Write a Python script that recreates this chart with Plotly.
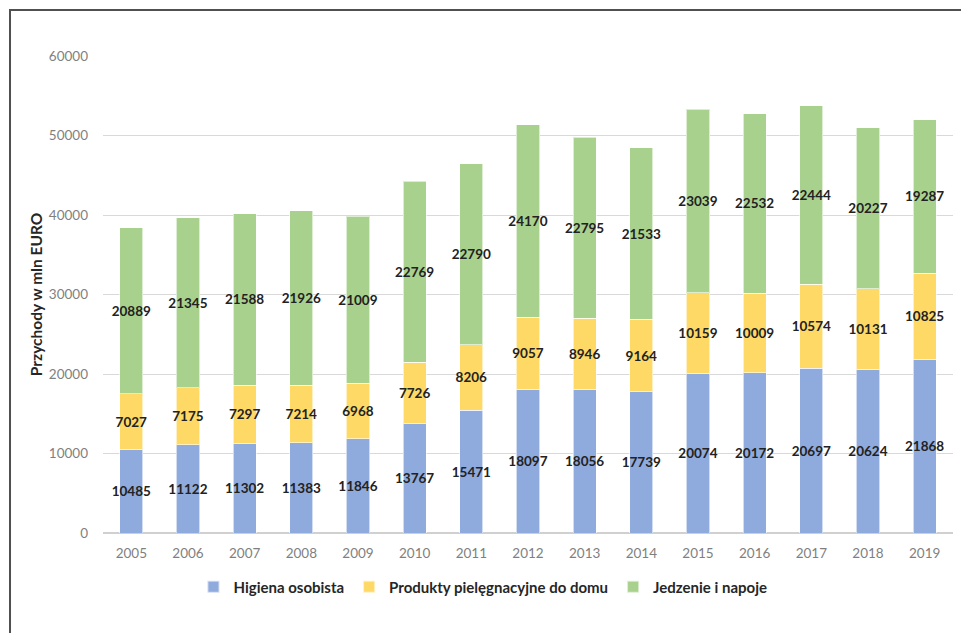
import plotly.graph_objects as go

# Revenue by category (mln EUR), 2005-2019
years = ["2005", "2006", "2007", "2008", "2009", "2010", "2011", "2012",
         "2013", "2014", "2015", "2016", "2017", "2018", "2019"]
higiena = [10485, 11122, 11302, 11383, 11846, 13767, 15471, 18097,
           18056, 17739, 20074, 20172, 20697, 20624, 21868]
produkty = [7027, 7175, 7297, 7214, 6968, 7726, 8206, 9057,
            8946, 9164, 10159, 10009, 10574, 10131, 10825]
jedzenie = [20889, 21345, 21588, 21926, 21009, 22769, 22790, 24170,
            22795, 21533, 23039, 22532, 22444, 20227, 19287]

series = [
    ("Higiena osobista", higiena, "#8FAADC"),
    ("Produkty pielęgnacyjne do domu", produkty, "#FFD966"),
    ("Jedzenie i napoje", jedzenie, "#A9D18E"),
]

FONT = "Lato, 'Open Sans', sans-serif"

fig = go.Figure()
for name, vals, color in series:
    fig.add_trace(go.Bar(
        x=years, y=vals, name=name,
        marker=dict(color=color, line=dict(color="rgba(255,255,255,0.6)", width=1)),
        text=[str(v) for v in vals],
        textposition="inside",
        insidetextanchor="middle",
        textangle=0,
        textfont=dict(family=FONT, size=13.5, color="#222222", weight="bold"),
        cliponaxis=False,
    ))

fig.update_layout(
    barmode="stack",
    bargap=0.59,
    width=961, height=633,
    margin=dict(l=103, r=8, t=56, b=100),
    paper_bgcolor="white",
    plot_bgcolor="white",
    font=dict(family=FONT, color="#7F7F7F", size=13.5),
    uniformtext=dict(mode="show", minsize=13.5),
    showlegend=True,
    legend=dict(
        orientation="h", x=0.447, xanchor="center", y=-0.113, yanchor="middle",
        font=dict(family=FONT, size=15, color="#262626", weight="bold"),
        itemsizing="constant", traceorder="normal",
    ),
    xaxis=dict(
        showgrid=False, showline=False, ticks="",
        ticklabelstandoff=10,
        tickfont=dict(size=13.5, color="#7F7F7F"),
    ),
    yaxis=dict(
        range=[0, 60000], dtick=10000, tickformat="d",
        showgrid=True, gridcolor="#D9D9D9", gridwidth=1,
        zeroline=True, zerolinecolor="#D0D0D0", zerolinewidth=2,
        showline=False, ticks="",
        ticklabelstandoff=14,
        tickfont=dict(size=13.5, color="#7F7F7F"),
        title=dict(text="Przychody w mln EURO", standoff=2,
                   font=dict(family=FONT, size=15.5, color="#262626", weight="bold")),
    ),
    shapes=[dict(
        type="rect", xref="paper", yref="paper",
        x0=-0.1094, x1=1.3, y0=-0.5, y1=1.0964,
        line=dict(color="#505050", width=2), fillcolor="rgba(0,0,0,0)", layer="above",
    )],
)

fig.write_html("out.html")
